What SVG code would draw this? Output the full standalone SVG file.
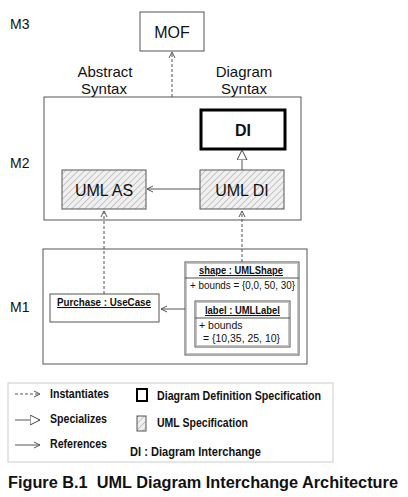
<svg xmlns="http://www.w3.org/2000/svg" width="408" height="497" viewBox="0 0 408 497">
<defs>
<pattern id="hatch" patternUnits="userSpaceOnUse" width="4.5" height="4.5" patternTransform="rotate(45)">
<rect width="4.5" height="4.5" fill="#f0f0f0"/>
<line x1="0" y1="0" x2="0" y2="4.5" stroke="#a8a8a8" stroke-width="1.2"/>
</pattern>
<marker id="open" markerWidth="8" markerHeight="8" refX="7" refY="4" orient="auto" markerUnits="userSpaceOnUse">
<path d="M1,1 L7,4 L1,7" fill="none" stroke="#555" stroke-width="1"/>
</marker>
<marker id="tri" markerWidth="12" markerHeight="12" refX="10" refY="5" orient="auto" markerUnits="userSpaceOnUse">
<path d="M0,0 L10,5 L0,10 Z" fill="#fff" stroke="#444" stroke-width="1"/>
</marker>
</defs>
<style>
text{font-family:"Liberation Sans",Arial,sans-serif;fill:#111}
.lvl{font-size:14px}
.cap{font-size:15px}
.node{font-size:16px}
.box{fill:#fff;stroke:#555;stroke-width:1}
.inner{fill:none;stroke:#c4c4c4;stroke-width:1}
.hat{fill:url(#hatch);stroke:#555;stroke-width:1}
.dash{stroke:#555;stroke-width:1;stroke-dasharray:3,2;fill:none}
.solid{stroke:#555;stroke-width:1;fill:none}
.sm{font-size:10.5px}
.smb{font-size:10.5px;font-weight:bold;text-decoration:underline}
.leg{font-size:12px;font-weight:bold}
</style>
<text class="lvl" x="10" y="29">M3</text>
<text class="lvl" x="10" y="168">M2</text>
<text class="lvl" x="10" y="312">M1</text>

<g id="m2">
<rect class="box" x="44" y="97" width="257" height="123"/>
</g>
<g id="m1">
<rect class="box" x="43" y="249" width="264" height="115"/>
</g>
<g id="mof">
<rect class="box" x="140" y="12" width="64" height="39"/>
<text class="node" x="172" y="38" text-anchor="middle">MOF</text>
</g>
<text class="cap" x="105" y="77" text-anchor="middle">Abstract</text>
<text class="cap" x="104" y="94" text-anchor="middle">Syntax</text>
<text class="cap" x="244" y="77" text-anchor="middle">Diagram</text>
<text class="cap" x="244" y="94" text-anchor="middle">Syntax</text>

<g id="di">
<rect x="201" y="110" width="84" height="39" fill="#fff" stroke="#000" stroke-width="3"/>
<text class="node" x="243" y="136" text-anchor="middle" font-weight="bold">DI</text>
</g>
<g id="umlas">
<rect class="hat" x="62" y="170" width="84" height="39"/>
<text class="node" x="104" y="196" text-anchor="middle">UML AS</text>
</g>
<g id="umldi">
<rect class="hat" x="200" y="170" width="84" height="39"/>
<text class="node" x="242" y="196" text-anchor="middle">UML DI</text>
</g>
<g id="purchase">
<rect class="box" x="50" y="294" width="109" height="28"/>
<text class="smb" x="57" y="306" textLength="94" lengthAdjust="spacingAndGlyphs">Purchase : UseCase</text>
</g>
<g id="shape">
<rect class="box" x="185" y="262" width="114" height="93" stroke="#444"/>
<rect class="inner" x="186.5" y="263.5" width="111" height="90"/>
<text class="smb" x="199" y="274" textLength="84" lengthAdjust="spacingAndGlyphs">shape : UMLShape</text>
<line class="solid" x1="185" y1="278" x2="299" y2="278"/>
<text class="sm" x="190" y="289" textLength="105" lengthAdjust="spacingAndGlyphs">+ bounds = {0,0, 50, 30}</text>
<g id="label">
<rect class="box" x="195" y="301" width="95" height="46" stroke="#444"/>
<rect class="inner" x="196.5" y="302.5" width="92" height="43"/>
<text class="smb" x="205" y="314" textLength="75" lengthAdjust="spacingAndGlyphs">label : UMLLabel</text>
<line class="solid" x1="195" y1="318" x2="290" y2="318"/>
<text class="sm" x="199" y="329">+ bounds</text>
<text class="sm" x="203" y="342" textLength="77" lengthAdjust="spacingAndGlyphs">= {10,35, 25, 10}</text>
</g>
</g>

<g id="connectors">
<line class="dash" x1="172" y1="97" x2="172" y2="52" marker-end="url(#open)"/>
<line class="dash" x1="104" y1="294" x2="104" y2="211" marker-end="url(#open)"/>
<line class="dash" x1="242" y1="262" x2="242" y2="211" marker-end="url(#open)"/>
<line class="solid" x1="242" y1="170" x2="242" y2="150" marker-end="url(#tri)"/>
<line class="solid" x1="200" y1="189" x2="147" y2="189" marker-end="url(#open)"/>
<line class="solid" x1="185" y1="309" x2="161" y2="309" marker-end="url(#open)"/>
</g>

<g id="legend">
<rect x="8" y="383" width="325" height="79" fill="#fff" stroke="#ccc" stroke-width="1"/>
<line class="dash" x1="15" y1="394" x2="40" y2="394" marker-end="url(#open)"/>
<text class="leg" x="50" y="398" textLength="59" lengthAdjust="spacingAndGlyphs">Instantiates</text>
<line class="solid" x1="15" y1="420" x2="40" y2="420" marker-end="url(#tri)"/>
<text class="leg" x="50" y="423" textLength="57" lengthAdjust="spacingAndGlyphs">Specializes</text>
<line class="solid" x1="15" y1="445" x2="40" y2="445" marker-end="url(#open)"/>
<text class="leg" x="50" y="448" textLength="57" lengthAdjust="spacingAndGlyphs">References</text>
<rect x="137" y="389" width="10" height="12" fill="#fff" stroke="#000" stroke-width="2"/>
<text class="leg" x="157" y="400" textLength="164" lengthAdjust="spacingAndGlyphs">Diagram Definition Specification</text>
<rect class="hat" x="137" y="416" width="9" height="15"/>
<text class="leg" x="157" y="427" textLength="91" lengthAdjust="spacingAndGlyphs">UML Specification</text>
<text class="leg" x="130" y="456" textLength="131" lengthAdjust="spacingAndGlyphs">DI : Diagram Interchange</text>
</g>
<text x="8" y="488" font-size="16.3" font-weight="bold" xml:space="preserve">Figure B.1  UML Diagram Interchange Architecture</text>
</svg>
